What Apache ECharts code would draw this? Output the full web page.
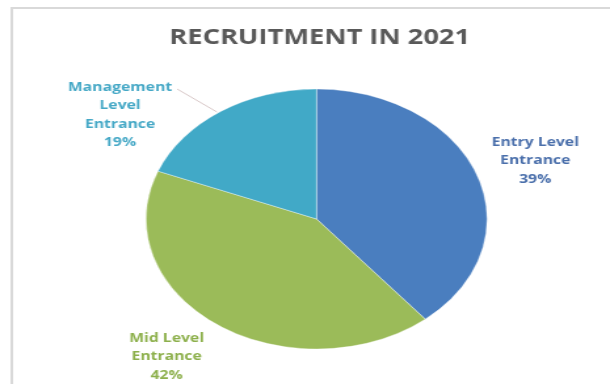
<!DOCTYPE html>
<html>
<head>
<meta charset="utf-8">
<script src="https://cdn.jsdelivr.net/npm/echarts@6/dist/echarts.min.js"></script>
<style>
  html, body { margin: 0; padding: 0; background: #ffffff; overflow: hidden; }
  #wrap { width: 610px; height: 384px; overflow: hidden; }
  /* the chart is drawn narrow and stretched sideways, giving the oval pie */
  #chart { width: 465px; height: 384px; transform: scaleX(1.3118); transform-origin: 0 0; }
</style>
</head>
<body>
<div id="wrap"><div id="chart"></div></div>
<script>
const chartTitle = 'RECRUITMENT IN 2021';
const categories = ['Entry Level\nEntrance', 'Mid Level\nEntrance', 'Management\nLevel\nEntrance'];
const shares = [39, 42, 19];
const sliceColors = ['#4a7ebf', '#9bbb59', '#41a9c7'];
const labelColors = ['#4a6fab', '#8db04c', '#45a8c6'];

// label anchor points (unstretched pixels) for each slice
const labelSpots = [[408, 161], [127, 357], [91.5, 115]];

const chart = echarts.init(document.getElementById('chart'), null, { renderer: 'canvas' });

const center = [241.3, 219];
const radius = 130;

chart.setOption({
  animation: false,
  title: {
    text: chartTitle,
    left: 124,
    top: 23,
    textStyle: {
      fontFamily: 'Open Sans',
      fontWeight: 'bold',
      fontSize: 20.8,
      color: '#595959'
    }
  },
  graphic: [{
    type: 'rect',
    shape: { x: 9, y: 8, width: 600, height: 500 },
    style: { fill: 'none', stroke: '#d9d9d9', lineWidth: 2 },
    silent: true,
    z: -1
  }],
  series: [{
    type: 'pie',
    center: center,
    radius: radius,
    startAngle: 90,
    clockwise: true,
    itemStyle: { borderColor: 'rgba(255,255,255,0.6)', borderWidth: 0.6 },
    label: {
      show: true,
      position: 'outside',
      formatter: p => p.name + '\n' + p.value + '%',
      fontFamily: 'Open Sans',
      fontWeight: 'bold',
      fontSize: 12,
      lineHeight: 18.5,
      align: 'center',
      overflow: 'none',
      width: 120
    },
    labelLine: { show: false },
    labelLayout: function (params) {
      const i = params.dataIndex;
      const out = {
        x: labelSpots[i][0],
        y: labelSpots[i][1],
        align: 'center',
        verticalAlign: 'middle'
      };
      if (i === 2) {
        // leader from the slice edge to the top-right of its label
        out.labelLinePoints = [[165.4, 112], [135, 89], [135, 89]];
      }
      return out;
    },
    data: categories.map((name, i) => ({
      name: name,
      value: shares[i],
      itemStyle: { color: sliceColors[i] },
      label: { color: labelColors[i] },
      labelLine: i === 2 ? { show: true, lineStyle: { color: '#d8c8c8', width: 1 } } : { show: false }
    }))
  }]
});
</script>
</body>
</html>
